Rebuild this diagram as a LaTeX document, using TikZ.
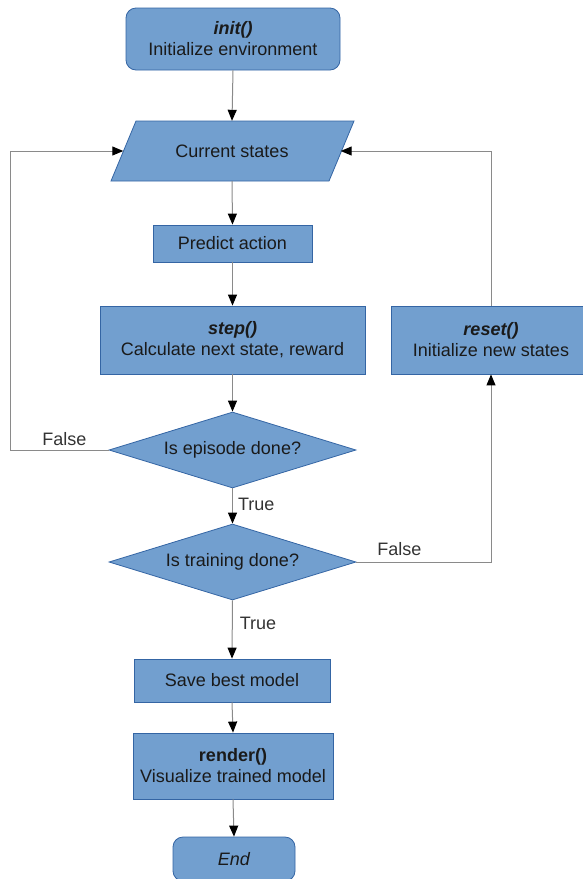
\documentclass[tikz,border=0pt]{standalone}
\usepackage{fontspec}
\setmainfont{Liberation Sans}
\usetikzlibrary{arrows.meta,shapes.geometric,calc}
\definecolor{boxfill}{HTML}{729FCF}
\definecolor{boxline}{HTML}{3465A4}
\definecolor{conn}{HTML}{8A8A8A}
\definecolor{txt}{HTML}{1A1A1A}
\definecolor{lbl}{HTML}{333333}
\begin{document}
\begin{tikzpicture}[x=1pt,y=-1pt,
  every node/.style={font=\fontsize{18}{21}\selectfont, text=txt},
  base/.style={draw=boxline, fill=boxfill, line width=0.8pt, inner sep=0pt, align=center},
  procbox/.style={base, rectangle},
  termbox/.style={base, rectangle, rounded corners=10pt},
  decbox/.style={base, diamond, aspect=3.25},
  conn/.style={draw=conn, line width=1pt, -{Triangle[length=11pt,width=9pt,black]}},
  lab/.style={text=lbl}
]
\useasboundingbox (0,0) rectangle (582,879);

% nodes
\node[termbox, minimum width=214pt, minimum height=62pt] (init) at (233,39) {\textbf{\textit{init()}}\\Initialize environment};

\draw[draw=boxline, fill=boxfill, line width=0.8pt] (136,121) -- (354,121) -- (329,181) -- (111,181) -- cycle;
\node[rectangle, inner sep=0pt, minimum width=243pt, minimum height=60pt] (cs) at (232,151) {Current states};
\coordinate (csL) at ($(cs.west)+(13,0)$);
\coordinate (csR) at ($(cs.east)+(-13,0)$);

\node[procbox, minimum width=159pt, minimum height=37pt] (pa) at (232.5,243.5) {Predict action};
\node[procbox, minimum width=265pt, minimum height=68pt] (step) at (232.5,340) {\textbf{\textit{step()}}\\Calculate next state, reward};
\node[procbox, minimum width=200pt, minimum height=68pt] (reset) at (491,340) {\textbf{\textit{reset()}}\\Initialize new states};
\node[decbox, minimum width=247pt, minimum height=76pt] (d1) at (232.5,450) {Is episode done?};
\node[decbox, minimum width=247pt, minimum height=76pt] (d2) at (232.5,562) {Is training done?};
\node[procbox, minimum width=196pt, minimum height=43pt] (save) at (232,680.5) {Save best model};
\node[procbox, minimum width=200pt, minimum height=66pt] (render) at (233,766) {\textbf{render()}\\Visualize trained model};
\node[termbox, minimum width=122pt, minimum height=44pt] (end) at (234,859) {\textit{End}};

% connectors
\draw[conn] (init.south) -- (cs.north);
\draw[conn] (cs.south) -- (pa.north);
\draw[conn] (pa.south) -- (step.north);
\draw[conn] (step.south) -- (d1.north);
\draw[conn] (d1.south) -- node[lab, right, pos=0.45, inner sep=5pt] (t1) {True} (d2.north);
\draw[conn] (d2.south) -- node[lab, right, pos=0.4, inner sep=7pt] (t2) {True} (save.north);
\draw[conn] (save.south) -- (render.north);
\draw[conn] (render.south) -- (end.north);

\draw[conn] (d1.west) -- node[lab, above, pos=0.45, inner sep=4pt] (f1) {False} ++(-98,0) |- (csL);
\draw[conn] (d2.east) -- node[lab, above, pos=0.32, inner sep=6pt] (f2) {False} ($(d2.east -| reset.south)$) -- (reset.south);
\draw[conn] (reset.north) |- (csR);
\end{tikzpicture}
\end{document}
